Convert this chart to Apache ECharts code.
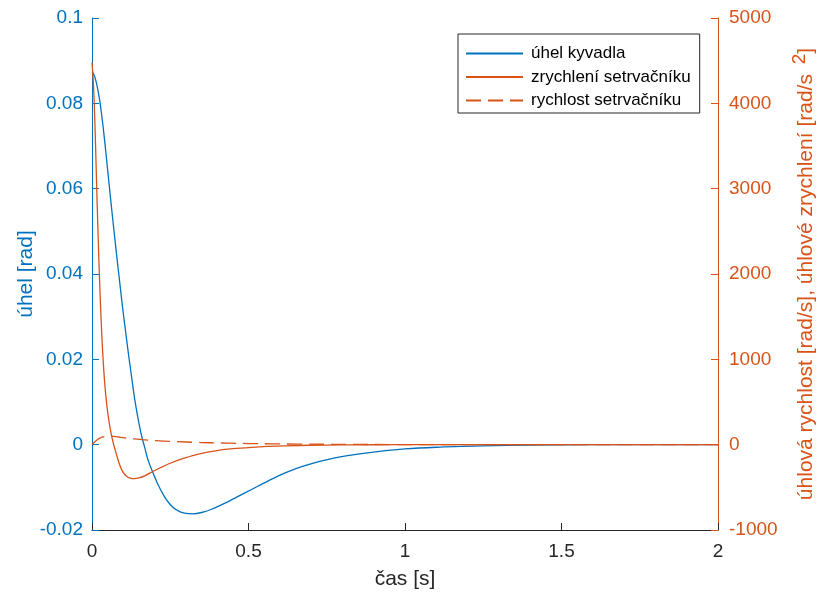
<!DOCTYPE html>
<html>
<head>
<meta charset="utf-8">
<script src="https://cdn.jsdelivr.net/npm/echarts@6/dist/echarts.min.js"></script>
<style>
  html, body { margin: 0; padding: 0; background: #fff; overflow: hidden; }
  #chart { width: 817px; height: 592px; }
</style>
</head>
<body>
<div id="chart"></div>
<script>
// tick labels
let xTicks = ['0', '0.5', '1', '1.5', '2'];
let leftTicks = ['-0.02', '0', '0.02', '0.04', '0.06', '0.08', '0.1'];
let rightTicks = ['-1000', '0', '1000', '2000', '3000', '4000', '5000'];

// úhel kyvadla [rad]
let tAngle = [0, 0.005, 0.01, 0.015, 0.02, 0.025, 0.03, 0.035, 0.04, 0.045, 0.05, 0.054, 0.06, 0.07, 0.08,
    0.09, 0.1, 0.11, 0.118, 0.13, 0.137, 0.15, 0.16, 0.167, 0.18, 0.196, 0.21, 0.23, 0.244, 0.26, 0.28, 0.3,
    0.323, 0.35, 0.38, 0.425, 0.47, 0.51, 0.56, 0.617, 0.68, 0.776, 0.88, 1.0, 1.1, 1.25, 1.4, 1.6, 2.0];
let angle = [0.0873, 0.0869, 0.0859, 0.0845, 0.0827, 0.0805, 0.0778, 0.0748, 0.0715, 0.0680, 0.0644, 0.0615,
    0.0572, 0.0503, 0.0436, 0.0371, 0.0308, 0.0250, 0.0204, 0.0140, 0.0104, 0.0050, 0.0016, -0.0003, -0.0038,
    -0.0068, -0.0092, -0.0120, -0.0135, -0.0148, -0.0157, -0.0161, -0.0162, -0.0159, -0.0152, -0.0137,
    -0.0120, -0.0105, -0.0086, -0.0066, -0.0049, -0.0031, -0.0019, -0.0010, -0.0006, -0.0003, -0.0001, 0, 0];

// zrychlení setrvačníku [rad/s^2]
let tAcc = [0, 0.003, 0.006, 0.009, 0.012, 0.015, 0.018, 0.021, 0.024, 0.027, 0.03, 0.034, 0.038, 0.042,
    0.046, 0.05, 0.055, 0.06, 0.065, 0.07, 0.077, 0.085, 0.095, 0.105, 0.115, 0.125, 0.135, 0.15, 0.17,
    0.196, 0.22, 0.25, 0.297, 0.34, 0.404, 0.45, 0.51, 0.56, 0.617, 0.7, 0.8, 0.9, 1.0, 2.0];
let acc = [4480, 4330, 4110, 3800, 3420, 3020, 2640, 2280, 1950, 1650, 1390, 1090, 850, 660, 510, 385, 255,
    150, 65, -10, -100, -200, -295, -350, -382, -396, -399, -390, -362, -312, -268, -218, -156, -110, -66,
    -47, -31, -21, -13, -7, -3, -1, 0, 0];

// rychlost setrvačníku [rad/s]
let tVel = [0, 0.005, 0.01, 0.015, 0.02, 0.025, 0.03, 0.035, 0.04, 0.05, 0.06, 0.07, 0.085, 0.1, 0.12,
    0.137, 0.16, 0.19, 0.244, 0.3, 0.35, 0.404, 0.47, 0.54, 0.617, 0.7, 0.8, 0.9, 1.0, 1.2, 1.5, 2.0];
let vel = [0, 20, 38, 53, 66, 76, 84, 90, 94, 98, 99, 97, 90, 82, 74, 67, 58, 50, 39, 31, 25, 20, 15, 11, 8,
    5.5, 3.5, 2, 1.2, 0.5, 0.1, 0];

const BLUE = '#0072BD';
const ORANGE = '#D95319';
const DARK = '#262626';
const FONT = '"Liberation Sans", Arial, Helvetica, sans-serif';

function pairs(xs, ys) {
    return xs.map((x, i) => [x, ys[i]]);
}

let myChart = echarts.init(document.getElementById('chart'));
let option = {
    animation: false,
    backgroundColor: '#fff',
    textStyle: { fontFamily: FONT },
    grid: { left: 92, right: 99, top: 18, bottom: 62, containLabel: false, outerBoundsMode: 'none' },
    legend: {
        orient: 'vertical',
        left: 458,
        top: 34,
        padding: [11, 9, 4, 7],
        itemWidth: 57,
        itemHeight: 14,
        itemGap: 6.5,
        borderColor: DARK,
        borderWidth: 1,
        backgroundColor: '#fff',
        itemStyle: { color: 'rgba(0,0,0,0)', borderWidth: 0, opacity: 0 },
        textStyle: { fontFamily: FONT, fontSize: 17, color: '#000', padding: [0, 0, 0, 3] },
        data: ['úhel kyvadla', 'zrychlení setrvačníku', 'rychlost setrvačníku']
    },
    xAxis: {
        type: 'value',
        min: +xTicks[0],
        max: +xTicks[xTicks.length - 1],
        interval: 0.5,
        name: 'čas [s]',
        nameLocation: 'middle',
        nameGap: 39,
        nameTextStyle: { fontSize: 21, color: DARK, fontFamily: FONT },
        axisLine: { show: true, onZero: false, lineStyle: { color: DARK, width: 1 } },
        axisTick: { show: true, inside: true, length: 7, lineStyle: { color: DARK } },
        axisLabel: { fontSize: 19, color: DARK, margin: 12, fontFamily: FONT,
            formatter: (v, i) => xTicks[i] },
        splitLine: { show: false }
    },
    yAxis: [{
        type: 'value',
        position: 'left',
        min: +leftTicks[0],
        max: +leftTicks[leftTicks.length - 1],
        interval: 0.02,
        name: 'úhel [rad]',
        nameLocation: 'middle',
        nameRotate: 90,
        nameGap: 55,
        nameMoveOverlap: false,
        nameTextStyle: { fontSize: 21, color: BLUE, fontFamily: FONT },
        axisLine: { show: true, onZero: false, lineStyle: { color: BLUE, width: 1 } },
        axisTick: { show: true, inside: true, length: 7, lineStyle: { color: BLUE } },
        axisLabel: { fontSize: 19, color: BLUE, margin: 9, fontFamily: FONT,
            formatter: (v, i) => leftTicks[i] },
        splitLine: { show: false }
    }, {
        type: 'value',
        position: 'right',
        min: +rightTicks[0],
        max: +rightTicks[rightTicks.length - 1],
        interval: 1000,
        name: 'úhlová rychlost [rad/s], úhlové zrychlení [rad/s {sup|2}]',
        nameLocation: 'middle',
        nameRotate: 90,
        nameGap: 72,
        nameMoveOverlap: false,
        nameTextStyle: { fontSize: 21, color: ORANGE, fontFamily: FONT,
            rich: { sup: { fontSize: 19, color: ORANGE, fontFamily: FONT, padding: [0, 0, 14, 4] } } },
        axisLine: { show: true, onZero: false, lineStyle: { color: ORANGE, width: 1 } },
        axisTick: { show: true, inside: true, length: 7, lineStyle: { color: ORANGE } },
        axisLabel: { fontSize: 19, color: ORANGE, margin: 11, fontFamily: FONT,
            formatter: (v, i) => rightTicks[i] },
        splitLine: { show: false }
    }],
    series: [{
        name: 'úhel kyvadla',
        type: 'line',
        yAxisIndex: 0,
        symbol: 'none',
        smooth: 0.3,
        data: pairs(tAngle, angle),
        lineStyle: { color: BLUE, width: 1.3 },
        itemStyle: { color: BLUE }
    }, {
        name: 'zrychlení setrvačníku',
        type: 'line',
        yAxisIndex: 1,
        symbol: 'none',
        smooth: 0.3,
        data: pairs(tAcc, acc),
        lineStyle: { color: ORANGE, width: 1.3 },
        itemStyle: { color: ORANGE }
    }, {
        name: 'rychlost setrvačníku',
        type: 'line',
        yAxisIndex: 1,
        symbol: 'none',
        smooth: 0.3,
        data: pairs(tVel, vel),
        lineStyle: { color: ORANGE, width: 1.3, type: [15, 7] },
        itemStyle: { color: ORANGE }
    }]
};
myChart.setOption(option);
</script>
</body>
</html>
